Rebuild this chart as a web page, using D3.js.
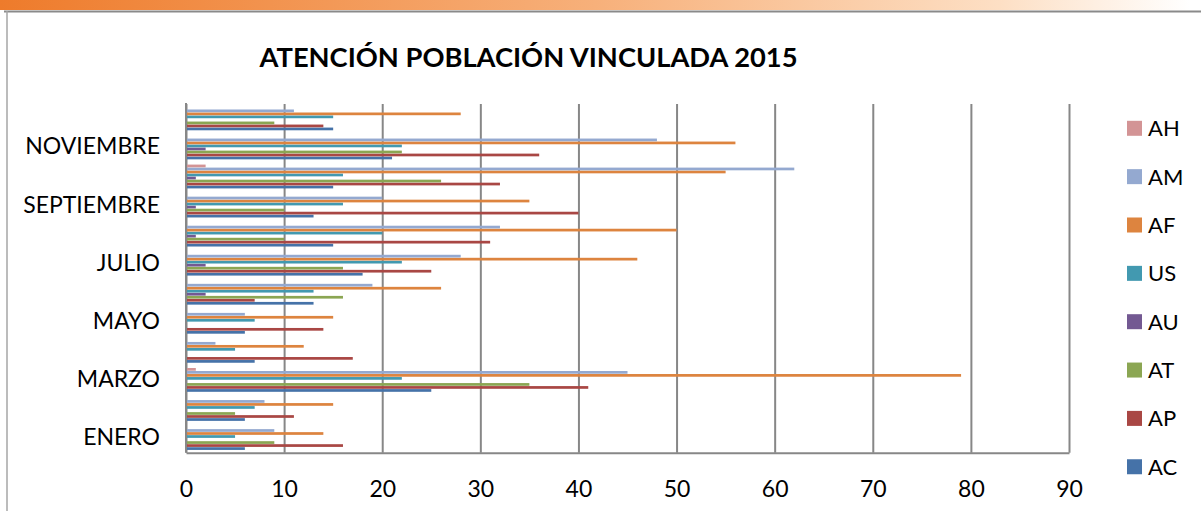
<!DOCTYPE html>
<html>
<head>
<meta charset="utf-8">
<script src="https://cdn.jsdelivr.net/npm/d3@7"></script>
<style>
  body { margin: 0; background: #fff; }
  svg { display: block; font-family: Lato, "Open Sans", sans-serif; }
</style>
</head>
<body>
<svg id="chart" width="1201" height="511"></svg>
<script>
const title = "ATENCIÓN POBLACIÓN VINCULADA 2015";
const months = ["ENERO", "FEBRERO", "MARZO", "ABRIL", "MAYO", "JUNIO",
  "JULIO", "AGOSTO", "SEPTIEMBRE", "OCTUBRE", "NOVIEMBRE", "DICIEMBRE"];
const series = ["AC", "AP", "AT", "AU", "US", "AF", "AM", "AH"];
const xTicks = [0, 10, 20, 30, 40, 50, 60, 70, 80, 90];

// one array per series, ENERO .. DICIEMBRE
const AC = [6, 6, 25, 7, 6, 13, 18, 15, 13, 15, 21, 15];
const AP = [16, 11, 41, 17, 14, 7, 25, 31, 40, 32, 36, 14];
const AT = [9, 5, 35, 0, 0, 16, 16, 10, 10, 26, 22, 9];
const AU = [0, 0, 0, 0, 0, 2, 2, 1, 1, 1, 2, 0];
const US = [5, 7, 22, 5, 7, 13, 22, 20, 16, 16, 22, 15];
const AF = [14, 15, 79, 12, 15, 26, 46, 50, 35, 55, 56, 28];
const AM = [9, 8, 45, 3, 6, 19, 28, 32, 20, 62, 48, 11];
const AH = [0, 0, 1, 0, 0, 0, 0, 0, 0, 2, 0, 0];

const colors = {
  AC: "#4572A8", AP: "#A94744", AT: "#8BA653", AU: "#735992",
  US: "#4299B0", AF: "#DD843F", AM: "#94A9D0", AH: "#D39495"
};

const values = { AC, AP, AT, AU, US, AF, AM, AH };
const data = months.map((m, i) => ({
  month: m,
  bars: series.map(s => ({ key: s, value: values[s][i] }))
}));

const svg = d3.select("#chart");
const margin = { top: 104, bottom: 58.3, left: 186, right: 132 };
const width = +svg.attr("width");
const height = +svg.attr("height");
const innerWidth = width - margin.left - margin.right;
const innerHeight = height - margin.top - margin.bottom;

// frame: orange strip on top, grey border lines
const grad = svg.append("defs").append("linearGradient")
  .attr("id", "topStrip").attr("x1", "0%").attr("x2", "100%");
grad.append("stop").attr("offset", "0%").attr("stop-color", "#EE7B2B");
grad.append("stop").attr("offset", "50%").attr("stop-color", "#F7B07A");
grad.append("stop").attr("offset", "84%").attr("stop-color", "#FDDFC4");
grad.append("stop").attr("offset", "100%").attr("stop-color", "#FFFFFF");
svg.append("rect").attr("x", 0).attr("y", 0).attr("width", 1190).attr("height", 10)
  .attr("fill", "url(#topStrip)");
svg.append("line").attr("x1", 4).attr("x2", width).attr("y1", 11.5).attr("y2", 11.5)
  .attr("stroke", "#8A8A8A").attr("stroke-width", 2);
svg.append("line").attr("x1", 7).attr("x2", 7).attr("y1", 11).attr("y2", height)
  .attr("stroke", "#A6A6A6").attr("stroke-width", 1.5);

const g = svg.append("g")
  .attr("transform", `translate(${margin.left}, ${margin.top})`);

const xScale = d3.scaleLinear().domain([0, 90]).range([0, innerWidth]);

const yScale = d3.scaleBand()
  .domain(months)
  .range([innerHeight, 0])
  .paddingInner(0.17)
  .paddingOuter(0.085);

const ySub = d3.scaleBand()
  .domain(series.slice().reverse())
  .range([0, yScale.bandwidth()]);

// x axis with vertical gridlines
const xAxis = d3.axisBottom(xScale)
  .tickValues(xTicks)
  .tickSize(-innerHeight)
  .tickSizeOuter(0);

const xAxisG = g.append("g")
  .attr("transform", `translate(0, ${innerHeight})`)
  .call(xAxis)
  .attr("font-size", 23)
  .attr("font-family", "Lato, sans-serif");
xAxisG.select(".domain").attr("stroke", "#878787").attr("stroke-width", 2);
xAxisG.selectAll(".tick line").attr("stroke", "#878787").attr("stroke-width", 2);
xAxisG.selectAll(".tick text")
  .attr("y", 44).attr("dy", 0)
  .attr("fill", "#000");

// y axis, every other month labelled
const yAxis = d3.axisLeft(yScale)
  .tickValues(months.filter((m, i) => i % 2 === 0))
  .tickSize(0)
  .tickPadding(26);

const yAxisG = g.append("g")
  .call(yAxis)
  .attr("font-size", 23)
  .attr("font-family", "Lato, sans-serif");
yAxisG.select(".domain").attr("stroke", "#878787").attr("stroke-width", 2)
  .attr("d", `M0,${-1}V${innerHeight}`);
yAxisG.selectAll(".tick text").attr("fill", "#000");
yAxisG.selectAll(".tick")
  .attr("transform", d => `translate(0, ${yScale(d) + yScale.bandwidth() / 2 - 0.5})`);

// bars
const groups = g.selectAll(".month")
  .data(data)
  .enter()
  .append("g")
  .attr("class", "month")
  .attr("transform", d => `translate(0, ${yScale(d.month)})`);

groups.selectAll("rect")
  .data(d => d.bars.filter(b => b.value > 0))
  .enter()
  .append("rect")
  .attr("x", 1)
  .attr("y", d => ySub(d.key))
  .attr("width", d => xScale(d.value) - 1)
  .attr("height", ySub.bandwidth() - 0.3)
  .attr("fill", d => colors[d.key]);

// legend
const legend = svg.append("g").attr("transform", "translate(1127, 128.3)");
const legendItems = legend.selectAll("g")
  .data(series.slice().reverse())
  .enter()
  .append("g")
  .attr("transform", (d, i) => `translate(0, ${i * 48.35})`);
legendItems.append("rect")
  .attr("x", 0).attr("y", -7.5)
  .attr("width", 15).attr("height", 15)
  .attr("fill", d => colors[d]);
legendItems.append("text")
  .attr("x", 21).attr("y", 8)
  .attr("font-size", 22)
  .attr("fill", "#000")
  .text(d => d);

// title
svg.append("text")
  .attr("x", 528.5)
  .attr("y", 67)
  .attr("text-anchor", "middle")
  .attr("font-size", 27.3)
  .attr("font-weight", "bold")
  .attr("fill", "#000")
  .text(title);
</script>
</body>
</html>
